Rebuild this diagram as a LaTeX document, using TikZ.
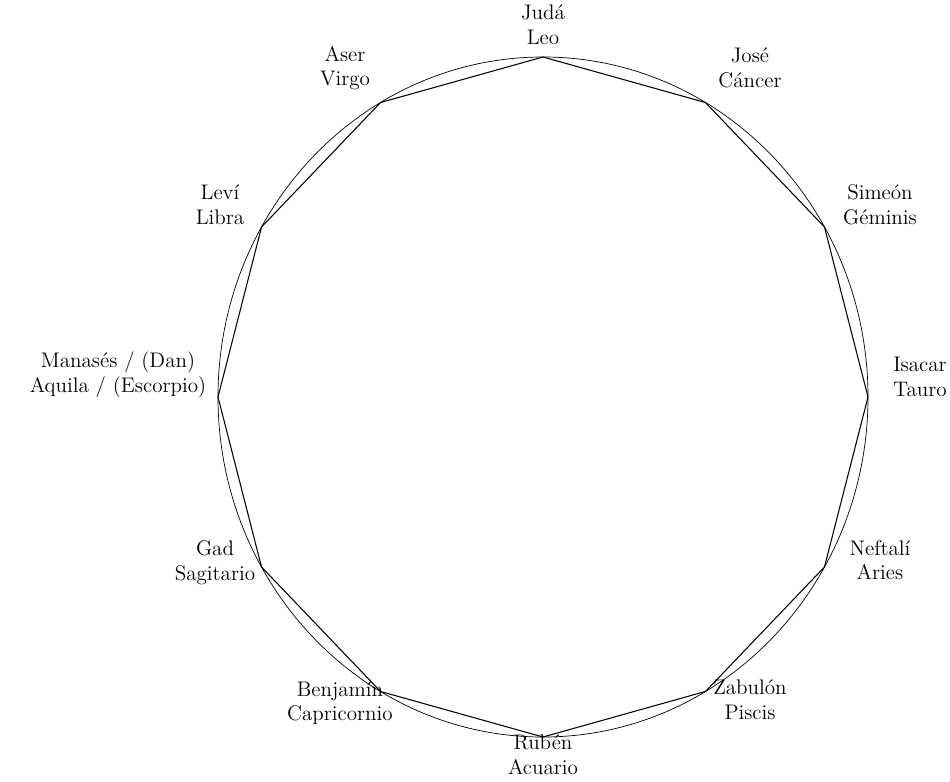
\documentclass[tikz,border=0pt]{standalone}
\usetikzlibrary{positioning}
\tikzset{
  sign/.style={align=center, font=\fontsize{12}{14}\selectfont, inner sep=1pt},
}
\begin{document}
\begin{tikzpicture}[x=0.02cm, y=-0.02cm]
\useasboundingbox (0,0) rectangle (950,781);

% circle and vertices
\draw[thin] (543,397) ellipse [x radius=325, y radius=340];
\foreach \i in {0,...,11}
  \coordinate (v\i) at ({543+325*cos(90-30*\i)}, {397-340*sin(90-30*\i)});
\draw[semithick] (v0) \foreach \i in {1,...,11}{ -- (v\i)} -- cycle;

% labels
\node[sign] (juda) at (543,25) {Judá\\Leo};
\node[sign] (jose) at (750,68) {José\\Cáncer};
\node[sign] (simeon) at (880,205) {Simeón\\Géminis};
\node[sign] (isacar) at (920,377) {Isacar\\Tauro};
\node[sign] (neftali) at (880,560) {Neftalí\\Aries};
\node[sign] (zabulon) at (750,700) {Zabulón\\Piscis};
\node[sign] (ruben) at (543,755) {Rubén\\Acuario};
\node[sign] (benjamin) at (340,703) {Benjamín\\Capricornio};
\node[sign] (gad) at (215,563) {Gad\\Sagitario};
\node[sign] (manases) at (118,375) {Manasés / (Dan)\\Aquila / (Escorpio)};
\node[sign] (levi) at (220,205) {Leví\\Libra};
\node[sign] (aser) at (345,68) {Aser\\Virgo};
\end{tikzpicture}
\end{document}
